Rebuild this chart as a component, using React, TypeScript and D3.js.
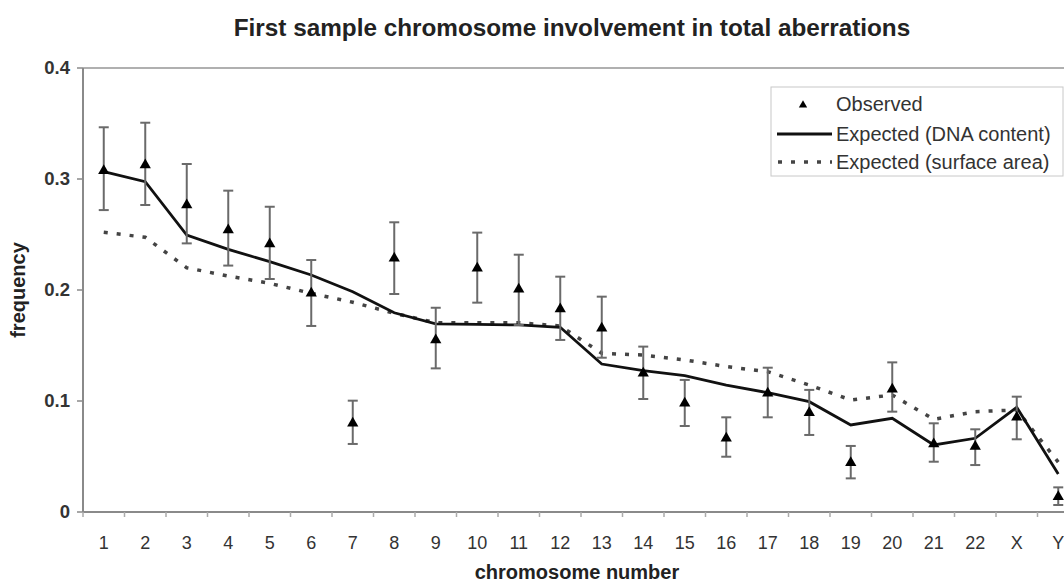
import React from 'react';
import * as d3 from 'd3';

const categories = ['1', '2', '3', '4', '5', '6', '7', '8', '9', '10', '11', '12', '13', '14', '15', '16', '17', '18', '19', '20', '21', '22', 'X', 'Y'];
const observed = [0.3075, 0.3126, 0.2766, 0.254, 0.2414, 0.197, 0.0799, 0.2285, 0.155, 0.2195, 0.2006, 0.1829, 0.1655, 0.125, 0.0979, 0.0664, 0.107, 0.0895, 0.0444, 0.1105, 0.0613, 0.0589, 0.0853, 0.0138];
const errHigh = [0.3466, 0.3507, 0.3135, 0.2895, 0.275, 0.227, 0.1003, 0.261, 0.184, 0.2517, 0.2318, 0.212, 0.194, 0.149, 0.119, 0.0853, 0.13, 0.11, 0.0595, 0.1348, 0.0799, 0.0745, 0.1039, 0.0222];
const errLow = [0.272, 0.2766, 0.242, 0.222, 0.2099, 0.1676, 0.0613, 0.1964, 0.1294, 0.1886, 0.1685, 0.155, 0.139, 0.1018, 0.0775, 0.0498, 0.0853, 0.0694, 0.0303, 0.0904, 0.0453, 0.0423, 0.0655, 0.0063];
const expectedDNA = [0.3066, 0.2976, 0.2495, 0.2366, 0.2255, 0.2135, 0.1985, 0.1795, 0.1694, 0.169, 0.1685, 0.1664, 0.1333, 0.1273, 0.1228, 0.1144, 0.1075, 0.0994, 0.0784, 0.0844, 0.0604, 0.0664, 0.0943, 0.0342];
const expectedSurface = [0.252, 0.2475, 0.22, 0.2126, 0.206, 0.197, 0.189, 0.179, 0.1705, 0.1705, 0.1705, 0.1676, 0.143, 0.1414, 0.137, 0.131, 0.1264, 0.1144, 0.1009, 0.1054, 0.0835, 0.0904, 0.0919, 0.045];
const yTicks = [0, 0.1, 0.2, 0.3, 0.4];
const yTickLabels = ['0', '0.1', '0.2', '0.3', '0.4'];
const legendLabels = ['Observed', 'Expected (DNA content)', 'Expected (surface area)'];

const W = 1064;
const H = 586;
const FONT = '"Liberation Sans", Arial, sans-serif';

export default function App() {
  const x = d3.scaleBand<string>().domain(categories).range([83, 1079]);
  const y = d3.scaleLinear().domain([0, 0.4]).range([512, 68]);
  const cx = (i: number) => (x(categories[i]) as number) + x.bandwidth() / 2;
  const line = d3.line<number>().x((_, i) => cx(i)).y((d) => y(d));
  const tri = d3.symbol().type(d3.symbolTriangle).size(55)() as string;
  const axisColor = '#8a8a8a';
  const textColor = '#333';

  return (
    <svg width={W} height={H} style={{ position: 'absolute', left: 0, top: 0, background: '#fff' }} fontFamily={FONT}>
      <rect x={0} y={0} width={W} height={H} fill="#fff" />
      <text x={572} y={36} textAnchor="middle" fontSize={24.3} fontWeight="bold" fill="#222">
        First sample chromosome involvement in total aberrations
      </text>

      {/* plot frame */}
      <line x1={83} x2={1079} y1={y(0.4)} y2={y(0.4)} stroke="#b0b0b0" strokeWidth={2} />
      <line x1={83} x2={83} y1={y(0.4)} y2={y(0)} stroke={axisColor} strokeWidth={2} />
      <line x1={83} x2={1079} y1={y(0)} y2={y(0)} stroke={axisColor} strokeWidth={2} />

      {/* y ticks */}
      {yTicks.map((t, i) => (
        <g key={'yt' + i}>
          <line x1={77} x2={83} y1={y(t)} y2={y(t)} stroke={axisColor} strokeWidth={1.5} />
          <text x={70} y={y(t)} dy="0.35em" textAnchor="end" fontSize={18.5} fontWeight="bold" fill={textColor}>
            {yTickLabels[i]}
          </text>
        </g>
      ))}

      {/* x ticks */}
      {categories.map((c, i) => (
        <g key={'xt' + c}>
          <line x1={x(c) as number} x2={x(c) as number} y1={y(0)} y2={y(0) + 5} stroke="#aaa" strokeWidth={1.5} />
          <text x={cx(i)} y={549} textAnchor="middle" fontSize={18} fill={textColor}>
            {c}
          </text>
        </g>
      ))}

      <text x={577} y={579} textAnchor="middle" fontSize={20} fontWeight="bold" fill="#222">
        chromosome number
      </text>
      <text transform={`translate(25,${y(0.2)}) rotate(-90)`} textAnchor="middle" fontSize={20} fontWeight="bold" fill="#222">
        frequency
      </text>

      {/* expected lines */}
      <path d={line(expectedSurface) as string} fill="none" stroke="#444" strokeWidth={3.5} strokeDasharray="4 9" />
      <path d={line(expectedDNA) as string} fill="none" stroke="#111" strokeWidth={2.8} />

      {/* error bars */}
      {observed.map((_, i) => (
        <g key={'eb' + i} stroke="#6a6a6a" strokeWidth={2}>
          <line x1={cx(i)} x2={cx(i)} y1={y(errLow[i])} y2={y(errHigh[i])} />
          <line x1={cx(i) - 5} x2={cx(i) + 5} y1={y(errLow[i])} y2={y(errLow[i])} />
          <line x1={cx(i) - 5} x2={cx(i) + 5} y1={y(errHigh[i])} y2={y(errHigh[i])} />
        </g>
      ))}
      {observed.map((v, i) => (
        <path key={'ob' + i} d={tri} transform={`translate(${cx(i)},${y(v)})`} fill="#000" />
      ))}

      {/* legend */}
      <rect x={771} y={87} width={292} height={89} fill="#fff" stroke="#c8c8c8" strokeWidth={1} />
      <path d={d3.symbol().type(d3.symbolTriangle).size(30)() as string} transform="translate(803,105)" fill="#000" />
      <line x1={777} x2={832} y1={134} y2={134} stroke="#111" strokeWidth={2.8} />
      <line x1={778} x2={832} y1={162} y2={162} stroke="#444" strokeWidth={3.5} strokeDasharray="4 9" />
      {legendLabels.map((l, i) => (
        <text key={l} x={836} y={[104, 134, 162][i]} dy="0.35em" fontSize={20} fill={textColor}>
          {l}
        </text>
      ))}
    </svg>
  );
}
